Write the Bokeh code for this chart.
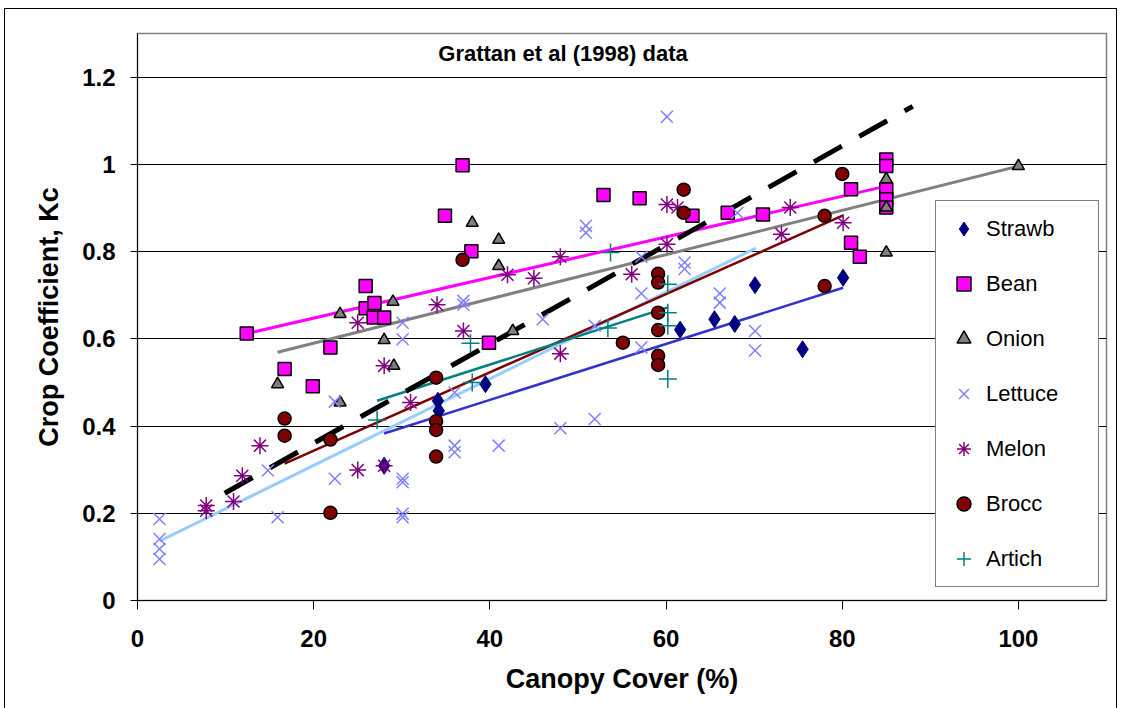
from bokeh.plotting import figure
from bokeh.models import Range1d, FixedTicker, NumeralTickFormatter, Label, InlineStyleSheet
from bokeh.embed import file_html
from bokeh.resources import INLINE

# ---------------- data ----------------
strawb_x = [28.0, 34.1, 34.2, 39.5, 61.6, 65.5, 67.8, 70.1, 75.5, 80.1]
strawb_y = [0.309, 0.458, 0.435, 0.496, 0.621, 0.645, 0.634, 0.723, 0.576, 0.740]

bean_x = [12.4, 16.7, 19.9, 21.9, 25.9, 25.9, 26.9, 26.8, 28.0, 34.9, 36.9, 37.9, 39.9,
          52.9, 57.0, 63.0, 67.0, 71.0, 81.0, 81.0, 82.0, 85.0, 85.0, 85.0, 85.0, 85.0]
bean_y = [0.612, 0.531, 0.491, 0.580, 0.721, 0.670, 0.682, 0.649, 0.649, 0.882, 0.998, 0.801, 0.591,
          0.930, 0.922, 0.882, 0.889, 0.885, 0.943, 0.820, 0.788, 1.011, 0.996, 0.943, 0.920, 0.901]

onion_x = [15.9, 23.0, 23.0, 28.0, 29.0, 29.1, 38.0, 41.0, 41.0, 42.6, 85.0, 85.0, 85.0, 100.0]
onion_y = [0.496, 0.657, 0.454, 0.597, 0.685, 0.538, 0.866, 0.827, 0.767, 0.618, 0.966, 0.901, 0.798, 0.996]

lettuce_x = [2.5, 2.5, 2.5, 2.5, 14.8, 15.9, 22.4, 22.4, 30.1, 30.1, 30.1, 30.1, 30.1, 30.1,
             36.0, 36.0, 36.0, 37.0, 37.0, 41.0, 46.0, 48.0, 50.9, 50.9, 51.9, 51.9,
             57.2, 57.2, 57.2, 60.1, 62.1, 62.1, 66.1, 66.1, 68.1, 70.1, 70.1]
lettuce_y = [0.187, 0.141, 0.118, 0.095, 0.298, 0.191, 0.456, 0.279, 0.637, 0.599, 0.279, 0.271, 0.199, 0.191,
             0.477, 0.355, 0.340, 0.687, 0.678, 0.355, 0.645, 0.395, 0.859, 0.843, 0.630, 0.416,
             0.788, 0.704, 0.580, 1.109, 0.775, 0.760, 0.704, 0.683, 0.889, 0.618, 0.573]

melon_x = [7.8, 7.8, 10.9, 11.9, 13.9, 25.0, 25.0, 28.0, 28.0, 31.0, 34.0, 37.0, 42.0, 45.0,
           48.0, 48.0, 56.1, 60.1, 61.3, 60.1, 73.1, 74.1, 80.1]
melon_y = [0.218, 0.206, 0.227, 0.286, 0.355, 0.637, 0.299, 0.538, 0.309, 0.454, 0.678, 0.618, 0.747, 0.739,
           0.788, 0.566, 0.748, 0.908, 0.901, 0.817, 0.840, 0.901, 0.866]

brocc_x = [16.7, 16.7, 21.9, 21.9, 33.9, 33.9, 33.9, 33.9, 36.9, 55.1, 59.1, 59.1, 59.1, 59.1,
           59.1, 59.1, 62.0, 62.0, 78.0, 78.0, 80.0]
brocc_y = [0.417, 0.378, 0.369, 0.201, 0.511, 0.411, 0.391, 0.330, 0.781, 0.591, 0.749, 0.729, 0.660, 0.620,
           0.561, 0.540, 0.942, 0.889, 0.882, 0.721, 0.978]

artich_x = [27.2, 37.8, 38.0, 53.4, 53.7, 60.2, 60.2, 60.2, 60.2]
artich_y = [0.414, 0.590, 0.500, 0.625, 0.798, 0.725, 0.660, 0.630, 0.508]

# trend lines (end points)
strawb_fit_x, strawb_fit_y = [28.0, 80.1], [0.383, 0.717]
bean_fit_x, bean_fit_y = [12.4, 85.0], [0.612, 0.950]
onion_fit_x, onion_fit_y = [15.9, 100.0], [0.569, 0.996]
lettuce_fit_x, lettuce_fit_y = [2.5, 70.2], [0.136, 0.808]
brocc_fit_x, brocc_fit_y = [16.7, 80.1], [0.314, 0.883]
artich_fit_x, artich_fit_y = [27.2, 60.2], [0.458, 0.672]
overall_fit_x, overall_fit_y = [9.9, 88.0], [0.246, 1.133]

x_ticks = [0, 20, 40, 60, 80, 100]
y_ticks = [0, 0.2, 0.4, 0.6, 0.8, 1.0, 1.2]

FONT = "Liberation Sans"

# thin black chart-area border (its bottom edge lies outside the window)
chart_border = InlineStyleSheet(css="""
:host { position: relative; }
:host::after {
  content: ""; position: absolute; left: 4px; top: 8px; right: 4px; bottom: 0px;
  border: 1.5px solid black; border-bottom: none; pointer-events: none; z-index: 10;
}
""")

p = figure(width=1121, height=708,
           x_range=Range1d(0, 110), y_range=Range1d(0, 1.3),
           output_backend="svg", toolbar_location=None,
           min_border_left=137, min_border_right=15,
           min_border_top=33, min_border_bottom=108,
           background_fill_color="white", border_fill_color="white",
           stylesheets=[chart_border])
p.outline_line_color = "#808080"
p.outline_line_width = 1.5

# trend lines (under the markers)
p.line(lettuce_fit_x, lettuce_fit_y, line_color="#99CCFF", line_width=3)
p.line(strawb_fit_x, strawb_fit_y, line_color="#3333CC", line_width=2.5)
p.line(bean_fit_x, bean_fit_y, line_color="#FF00FF", line_width=3)
p.line(onion_fit_x, onion_fit_y, line_color="#808080", line_width=3)
p.line(brocc_fit_x, brocc_fit_y, line_color="#800000", line_width=2.5)
p.line(artich_fit_x, artich_fit_y, line_color="#008080", line_width=2.5)
p.line(overall_fit_x, overall_fit_y, line_color="black", line_width=5, line_dash="32 20")

# markers
p.scatter(strawb_x, strawb_y, marker="diamond", size=17, fill_color="#000080",
          line_color="#000080", legend_label="Strawb")
p.scatter(bean_x, bean_y, marker="square", size=13, fill_color="#FF00FF",
          line_color="black", line_width=1.5, legend_label="Bean")
p.scatter(onion_x, onion_y, marker="triangle", size=12, fill_color="#808080",
          line_color="black", line_width=1.5, legend_label="Onion")
p.scatter(lettuce_x, lettuce_y, marker="x", size=17, line_color="#8080FF",
          line_width=1.5, legend_label="Lettuce")
p.scatter(melon_x, melon_y, marker="asterisk", size=17, line_color="#800080",
          line_width=1.5, legend_label="Melon")
p.scatter(brocc_x, brocc_y, marker="circle", size=13, fill_color="#800000",
          line_color="black", line_width=1.5, legend_label="Brocc")
p.scatter(artich_x, artich_y, marker="cross", size=18, line_color="#008080",
          line_width=1.5, legend_label="Artich")

# axes
p.xaxis.ticker = FixedTicker(ticks=x_ticks)
p.yaxis.ticker = FixedTicker(ticks=y_ticks)
p.yaxis.formatter = NumeralTickFormatter(format="0.[0]")
p.xaxis.axis_label = "Canopy Cover (%)"
p.yaxis.axis_label = "Crop Coefficient, Kc"
for ax in (p.xaxis[0], p.yaxis[0]):
    ax.axis_line_color = "black"
    ax.axis_line_width = 1
    ax.major_tick_line_color = "black"
    ax.minor_tick_line_color = None
    ax.major_label_text_font = FONT
    ax.major_label_text_font_style = "bold"
    ax.major_label_text_font_size = "24px"
    ax.major_label_text_color = "black"
    ax.axis_label_text_font = FONT
    ax.axis_label_text_font_style = "bold"
    ax.axis_label_text_font_size = "27px"
    ax.axis_label_text_color = "black"
p.xaxis.major_tick_in = 0
p.xaxis.major_tick_out = 9
p.xaxis.major_label_standoff = 20
p.xaxis.axis_label_standoff = 14
p.yaxis.major_tick_in = 7
p.yaxis.major_tick_out = 7
p.yaxis.major_label_standoff = 15
p.yaxis.axis_label_standoff = 15

p.xgrid.visible = False
p.ygrid.ticker = FixedTicker(ticks=y_ticks)
p.ygrid.grid_line_color = "black"
p.ygrid.grid_line_width = 1

# chart title inside the plot area
p.add_layout(Label(x=48.3, y=1.253, text="Grattan et al (1998) data",
                   text_align="center", text_baseline="middle",
                   text_font=FONT, text_font_style="bold", text_font_size="22px",
                   text_color="black"))

# legend
lg = p.legend[0]
lg.location = (798, 13)
lg.padding = 10
lg.spacing = 20
lg.margin = 0
lg.glyph_width = 35
lg.glyph_height = 35
lg.label_standoff = 5
lg.label_width = 102
lg.label_text_font = FONT
lg.label_text_font_size = "22px"
lg.label_text_color = "black"
lg.border_line_color = "black"
lg.border_line_width = 1
lg.background_fill_color = "white"
lg.background_fill_alpha = 1.0

open("out.html", "w").write(file_html(p, INLINE))
